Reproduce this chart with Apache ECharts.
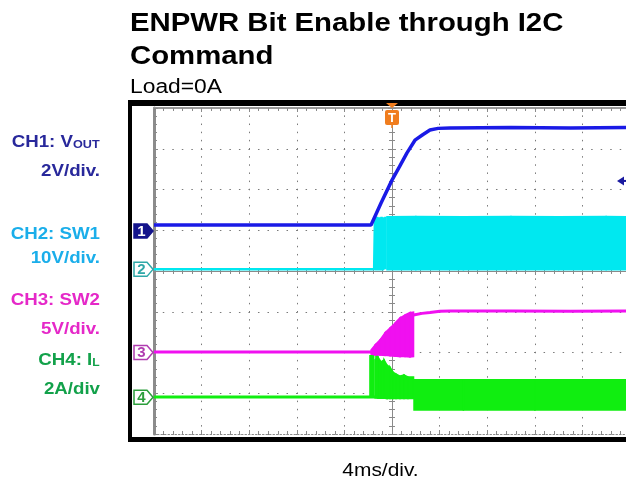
<!DOCTYPE html>
<html><head><meta charset="utf-8">
<script src="https://cdn.jsdelivr.net/npm/echarts@6/dist/echarts.min.js"></script>
<style>html,body{margin:0;padding:0;background:#fff}#c{width:626px;height:481px}</style>
</head><body><div id="c"></div><script>
// Horizontal: time in ms (4 ms/div, trigger at 0). Vertical: screen divisions (center = 0).
const ch1Time  = [-20, -10, -1.76, -0.92, 0, 0.63, 1.26, 1.93, 2.61, 3.19, 3.87, 4.87, 10, 15, 20];
const ch1Level = [1.13, 1.13, 1.13, 1.67, 2.23, 2.56, 2.90, 3.21, 3.35, 3.46, 3.50, 3.51, 3.52, 3.51, 3.52];

const ch2BaseTime  = [-20, -10, -1.50];
const ch2BaseLevel = [0.04, 0.04, 0.04];
const ch2SpikeTime = [-1.43, -1.26, -1.05, -0.88, -0.71, -0.55];
const ch2SpikeTop  = [1.32, 1.33, 1.32, 1.33, 1.32, 1.33];
const ch2BandTime  = [-0.42, 2, 6, 10, 14, 18, 20];
const ch2BandLow   = [0.03, 0.03, 0.03, 0.03, 0.03, 0.03, 0.03];
const ch2BandHigh  = [1.33, 1.34, 1.33, 1.34, 1.33, 1.34, 1.33];

const ch3BaseTime  = [-20, -10, -1.76];
const ch3BaseLevel = [-1.99, -1.99, -1.99];
const ch3BandTime  = [-1.76, -1.43, -1.01, -0.59, -0.17, 0.25, 0.67, 1.09, 1.51, 1.81];
const ch3BandHigh  = [-1.94, -1.82, -1.69, -1.52, -1.40, -1.28, -1.15, -1.08, -1.02, -1.01];
const ch3BandLow   = [-2.04, -2.06, -2.06, -2.07, -2.08, -2.09, -2.10, -2.10, -2.11, -2.10];
const ch3PostTime  = [1.81, 1.85, 2.52, 3.19, 4.03, 4.87, 10, 15, 20];
const ch3PostLevel = [-1.08, -1.08, -1.04, -1.02, -0.99, -0.98, -0.98, -0.99, -0.98];

const ch4BaseTime  = [-20, -10, -1.79];
const ch4BaseLevel = [-3.09, -3.09, -3.09];
const ch4SpikeTime = [-1.79, -1.60, -1.29];
const ch4SpikeTop  = [-2.06, -2.06, -2.01];
const ch4BandTime  = [-1.43, -1.18, -0.92, -0.67, -0.42, -0.17, 0.08, 0.34, 0.67, 1.01, 1.34, 1.81];
const ch4BandHigh  = [-2.18, -2.11, -2.23, -2.18, -2.31, -2.36, -2.48, -2.53, -2.58, -2.55, -2.60, -2.60];
const ch4BandLow   = [-3.11, -3.12, -3.12, -3.12, -3.13, -3.13, -3.13, -3.13, -3.13, -3.13, -3.13, -3.13];
const ch4PostTime  = [1.85, 6, 12, 20];
const ch4PostHigh  = [-2.67, -2.67, -2.67, -2.67];
const ch4PostLow   = [-3.41, -3.41, -3.41, -3.41];

const markerLevels = [0.98, 0.04, -2.0, -3.1];
const markerNames  = ['1', '2', '3', '4'];
const trigLevel = 2.21;

const C1 = '#1a1ae6', C2 = '#00e8f0', C3 = '#f010f0', C4 = '#10ee10';
const FONT = '"Liberation Sans", Arial, sans-serif';

function zip(a, b) { return a.map((v, i) => [v, b[i]]); }
function withSpikes(bt, bl, st, stop) {
  const base = bl[0];
  const d = zip(bt, bl);
  st.forEach((t, i) => { d.push([t, base], [t, stop[i]], [t, base]); });
  return d;
}
function lineSeries(data, color, z, w) {
  return { type: 'line', data, xAxisIndex: 0, yAxisIndex: 0, symbol: 'none', z,
    lineStyle: { color, width: w || 3 }, itemStyle: { color }, silent: true, animation: false };
}
function bandSeries(times, lows, highs, color, z) {
  const data = times.map((t, i) => [t, lows[i], highs[i]]);
  return {
    type: 'custom', xAxisIndex: 0, yAxisIndex: 0, z, silent: true, animation: false,
    encode: { x: 0, y: [1, 2] }, data,
    renderItem(params, api) {
      const i = params.dataIndex;
      if (i >= data.length - 1) return null;
      const a = data[i], b = data[i + 1];
      const pts = [api.coord([a[0], a[1]]), api.coord([a[0], a[2]]), api.coord([b[0], b[2]]), api.coord([b[0], b[1]])];
      return { type: 'polygon', shape: { points: pts }, style: { fill: color, stroke: color, lineWidth: 1.5 } };
    }
  };
}

const GRAY = '#8a8a8a';
const rect = { left: 154, top: 108, width: 476, height: 326, outerBoundsMode: 'none', containLabel: false };
function xAx(grid, pos, onZero, extra) {
  return Object.assign({ type: 'value', gridIndex: grid, min: -20, max: 20, interval: 4, position: pos,
    axisLabel: { show: false },
    axisLine: { show: true, onZero, lineStyle: { color: GRAY, width: 1 } },
    axisTick: { show: true, inside: true, length: 4, lineStyle: { color: GRAY } },
    minorTick: { show: true, splitNumber: 5, length: 3, lineStyle: { color: GRAY } },
    splitLine: { show: false } }, extra || {});
}
function yAx(grid, pos, onZero, extra) {
  return Object.assign({ type: 'value', gridIndex: grid, min: -4, max: 4, interval: 1, position: pos,
    axisLabel: { show: false },
    axisLine: { show: true, onZero, lineStyle: { color: GRAY, width: 1 } },
    axisTick: { show: true, inside: true, length: 4, lineStyle: { color: GRAY } },
    minorTick: { show: true, splitNumber: 5, length: 3, lineStyle: { color: GRAY } },
    splitLine: { show: false } }, extra || {});
}

const option = {
  animation: false,
  backgroundColor: '#ffffff',
  grid: [Object.assign({}, rect), Object.assign({}, rect), Object.assign({}, rect), Object.assign({}, rect)],
  xAxis: [
    xAx(0, 'bottom', false, {
      axisLine: { show: true, onZero: false, lineStyle: { color: GRAY, width: 1, type: [1.5, 2] } },
      splitLine: { show: true, lineStyle: { color: '#7a7a7a', width: 1, type: [1.5, 6.65], dashOffset: 0.75 } } }),
    xAx(1, 'top', false, { axisLine: { show: true, onZero: false, lineStyle: { color: '#999', width: 2 } } }),
    xAx(2, 'bottom', true),
    xAx(3, 'top', true)
  ],
  yAxis: [
    yAx(0, 'left', false, {
      axisLine: { show: true, onZero: false, lineStyle: { color: '#8c8c8c', width: 3 } },
      splitLine: { show: true, lineStyle: { color: '#7a7a7a', width: 1, type: [1.5, 8.02], dashOffset: 0.75 } } }),
    yAx(1, 'right', false),
    yAx(2, 'left', true),
    yAx(3, 'right', true)
  ],
  series: [
    lineSeries(withSpikes(ch4BaseTime, ch4BaseLevel, ch4SpikeTime, ch4SpikeTop), C4, 3, 3),
    bandSeries(ch4BandTime, ch4BandLow, ch4BandHigh, C4, 3),
    bandSeries(ch4PostTime, ch4PostLow, ch4PostHigh, C4, 3),
    lineSeries(zip(ch3BaseTime, ch3BaseLevel), C3, 4, 3),
    bandSeries(ch3BandTime, ch3BandLow, ch3BandHigh, C3, 4),
    lineSeries(zip(ch3PostTime, ch3PostLevel), C3, 4, 3),
    lineSeries(withSpikes(ch2BaseTime, ch2BaseLevel, ch2SpikeTime, ch2SpikeTop), C2, 5, 2.5),
    bandSeries(ch2BandTime, ch2BandLow, ch2BandHigh, C2, 5),
    lineSeries(zip(ch1Time, ch1Level), C1, 6, 3.5)
  ]
};

const chart = echarts.init(document.getElementById('c'), null, { renderer: 'canvas' });
chart.setOption(option);

const px = (t, v) => chart.convertToPixel({ xAxisIndex: 0, yAxisIndex: 0 }, [t, v]);

function txt(str, x, y, size, color, align, bold, sx, z) {
  const f = (bold ? 'bold ' : '') + size + 'px ' + FONT;
  return { type: 'text', x, y, scaleX: sx || 1.1, z: z || 20,
    style: { text: str, fill: color, font: f, align: align, textAlign: align,
      verticalAlign: 'middle', textVerticalAlign: 'middle' } };
}

const gfx = [];
// scope frame
gfx.push({ type: 'rect', shape: { x: 128, y: 100, width: 510, height: 6 }, style: { fill: '#000' }, z: 1 });
gfx.push({ type: 'rect', shape: { x: 128, y: 100, width: 4, height: 342 }, style: { fill: '#000' }, z: 1 });
gfx.push({ type: 'rect', shape: { x: 128, y: 437, width: 510, height: 5 }, style: { fill: '#000' }, z: 1 });

// channel ground markers
const mStyle = [
  { fill: '#14148c', stroke: '#14148c', text: '#ffffff' },
  { fill: '#ffffff', stroke: '#2fa8a8', text: '#2fa8a8' },
  { fill: '#ffffff', stroke: '#b03cb0', text: '#b03cb0' },
  { fill: '#ffffff', stroke: '#2c9e3c', text: '#2c9e3c' }
];
markerLevels.forEach((lv, i) => {
  const p = px(-20, lv);
  const tipX = p[0] - 1, y = p[1];
  gfx.push({ type: 'group', x: tipX, y: y, z: 15, children: [
    { type: 'polygon', shape: { points: [[-19, -7], [-6, -7], [0, 0], [-6, 7], [-19, 7]] },
      style: { fill: mStyle[i].fill, stroke: mStyle[i].stroke, lineWidth: 1.5 }, z: 15 },
    { type: 'text', x: -11.5, y: 0.5, z: 16, style: { text: markerNames[i], fill: mStyle[i].text,
      font: 'bold 15px ' + FONT, align: 'center', textAlign: 'center', verticalAlign: 'middle', textVerticalAlign: 'middle' } }
  ] });
});

// trigger position marker (T)
const tp = px(0, 4);
gfx.push({ type: 'group', x: tp[0], y: tp[1], z: 18, children: [
  { type: 'polygon', shape: { points: [[-6, -5], [6, -5], [0, 0]] }, style: { fill: '#f07d1e' }, z: 18 },
  { type: 'rect', shape: { x: -7, y: 2, width: 14, height: 15, r: 2 }, style: { fill: '#f07d1e' }, z: 18 },
  { type: 'rect', shape: { x: -0.75, y: 17, width: 1.5, height: 3 }, style: { fill: '#f07d1e' }, z: 18 },
  { type: 'text', x: 0, y: 10, z: 19, style: { text: 'T', fill: '#ffffff', font: 'bold 13px ' + FONT,
    align: 'center', textAlign: 'center', verticalAlign: 'middle', textVerticalAlign: 'middle' } }
] });

// trigger level marker (right)
const tl = px(20, trigLevel);
gfx.push({ type: 'polygon', z: 18, shape: { points: [[617, tl[1]], [624, tl[1] - 4.5], [624, tl[1] + 4.5]] }, style: { fill: '#1a1aa0' } });
gfx.push({ type: 'rect', z: 18, shape: { x: 622, y: tl[1] - 1, width: 4, height: 2 }, style: { fill: '#1a1aa0' } });

// titles
gfx.push(txt('ENPWR Bit Enable through I2C', 130, 24, 25.5, '#000', 'left', true, 1.15));
gfx.push(txt('Command', 130, 56.5, 25.5, '#000', 'left', true, 1.15));
gfx.push(txt('Load=0A', 130, 88, 19.5, '#000', 'left', false, 1.17));
gfx.push(txt('4ms/div.', 380.5, 471, 19, '#000', 'center', false, 1.1));

// channel labels
const L1 = '#28289b', L2 = '#1aaeea', L3 = '#e528c8', L4 = '#12a14a';
gfx.push(txt('CH1: V', 73, 142, 17, L1, 'right', true));
gfx.push(txt('OUT', 73, 145, 11.5, L1, 'left', true));
gfx.push(txt('2V/div.', 100, 171.3, 17, L1, 'right', true));
gfx.push(txt('CH2: SW1', 100, 234, 17, L2, 'right', true));
gfx.push(txt('10V/div.', 100, 258.3, 17, L2, 'right', true));
gfx.push(txt('CH3: SW2', 100, 300, 17, L3, 'right', true));
gfx.push(txt('5V/div.', 100, 329.3, 17, L3, 'right', true));
gfx.push(txt('CH4: I', 92.3, 360, 17, L4, 'right', true));
gfx.push(txt('L', 92.3, 363, 11, L4, 'left', true));
gfx.push(txt('2A/div', 100, 389.3, 17, L4, 'right', true));

chart.setOption({ graphic: { elements: gfx } });
</script></body></html>
